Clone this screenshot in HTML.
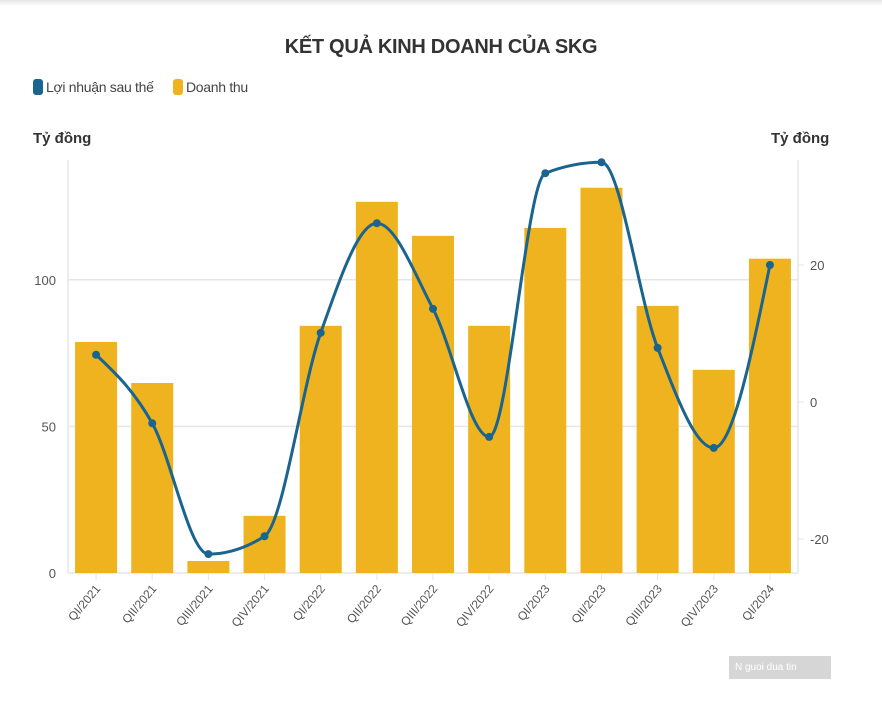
<!DOCTYPE html>
<html><head><meta charset="utf-8">
<style>
body{margin:0;background:#fff;font-family:"Liberation Sans",sans-serif;}
#wrap{position:relative;width:882px;height:706px;overflow:hidden;background:#fff;}
#topbar{position:absolute;left:0;top:0;width:882px;height:6px;background:linear-gradient(#e6e6e6,#fff);}
#title{position:absolute;left:0;width:882px;top:36px;text-align:center;font-weight:bold;font-size:20px;color:#333;letter-spacing:-0.3px;}
.leg{position:absolute;top:79px;font-size:14px;color:#444;display:flex;align-items:center;letter-spacing:-0.3px;}
.sw{display:inline-block;width:10px;height:16px;border-radius:3px;margin-right:3px;}
.unit{position:absolute;top:130px;font-weight:bold;font-size:15px;color:#333;}
#wm{position:absolute;left:729px;top:656px;width:102px;height:23px;background:#d6d6d6;color:#fff;font-size:10px;line-height:23px;padding-left:6px;box-sizing:border-box;}
</style></head><body>
<div id="wrap">
<div id="topbar"></div>
<div id="title">KẾT QUẢ KINH DOANH CỦA SKG</div>
<div class="leg" style="left:33px"><span class="sw" style="background:#1a6490"></span>Lợi nhuận sau thế</div>
<div class="leg" style="left:173px"><span class="sw" style="background:#eeb31e"></span>Doanh thu</div>
<div class="unit" style="left:33px">Tỷ đồng</div>
<div class="unit" style="left:771px">Tỷ đồng</div>
<svg id="chart" width="882" height="706" style="position:absolute;left:0;top:0"></svg>
<div id="wm">N guoi dua tin</div>
</div>
<script>
const categories=["QI/2021","QII/2021","QIII/2021","QIV/2021","QI/2022","QII/2022","QIII/2022","QIV/2022","QI/2023","QII/2023","QIII/2023","QIV/2023","QI/2024"];
const revenue=[78.8,64.8,4.1,19.5,84.3,126.6,115,84.3,117.7,131.4,91.1,69.3,107.2];
const profit=[6.9,-3.1,-22.2,-19.6,10.1,26.1,13.6,-5.1,33.4,35.0,7.9,-6.7,20.0];
const leftTicks=[0,50,100];
const rightTicks=[-20,0,20];
const svg=document.getElementById('chart');
const NS='http://www.w3.org/2000/svg';
const X0=68,X1=798,B=573;
const yL=v=>B-v*2.932;
const yR=v=>402-v*6.85;
const band=(X1-X0)/categories.length;
const xc=i=>X0+band*(i+0.5);
function mk(t,a){const e=document.createElementNS(NS,t);for(const k in a)e.setAttribute(k,a[k]);svg.appendChild(e);return e;}
leftTicks.forEach(t=>{
 const l=mk('line',{x1:X0,x2:X1,y1:yL(t),y2:yL(t),stroke:'#e6e6e6','stroke-width':1.5});
 
 
 const tx=mk('text',{x:X0-12,y:yL(t)+5,'text-anchor':'end','font-size':13,fill:'#555'});
 tx.textContent=t;
 
 
});
rightTicks.forEach(t=>{
 const tx=mk('text',{x:X1+12,y:yR(t)+5,'text-anchor':'start','font-size':13,fill:'#555'});
 tx.textContent=t;
 
 
 const tk=mk('line',{x1:X1,x2:X1+6,y1:yR(t),y2:yR(t),stroke:'#e6e6e6'});
 
 
});
[X0,X1].forEach(x=>{const l=mk('line',{x1:x,x2:x,y1:160,y2:B,stroke:'#e6e6e6','stroke-width':1.5});
 
 });
revenue.forEach((v,i)=>{
 const r=mk('rect',{x:xc(i)-21,y:yL(v),width:42,height:B-yL(v),fill:'#eeb31e'});
 
 
});
categories.forEach((c,i)=>{
 const tk=mk('line',{x1:xc(i),x2:xc(i),y1:B,y2:B+7,stroke:'#e6e6e6'});
 
 
 const tx=mk('text',{x:xc(i)+5,y:B+16,'text-anchor':'end','font-size':12,fill:'#555',transform:`rotate(-50 ${xc(i)+5} ${B+16})`});
 tx.textContent=c;
 
 
});
// monotone cubic (Fritsch-Carlson style, d3 monotoneX)
const pts=profit.map((v,i)=>[xc(i),yR(v)]);
const n=pts.length,h=band;
const s=[];for(let i=0;i<n-1;i++)s.push((pts[i+1][1]-pts[i][1])/h);
const m=[];
for(let i=0;i<n;i++){
 if(i===0)m.push(s[0]);else if(i===n-1)m.push(s[n-2]);
 else{const a=s[i-1],b=s[i];
  if(a*b<=0)m.push(0);
  else{const p=(a+b)/2;m.push((Math.sign(a)+Math.sign(b))*Math.min(Math.abs(a),Math.abs(b),0.5*Math.abs(p)));}}
}
m[0]=(3*s[0]-m[1])/2;m[n-1]=(3*s[n-2]-m[n-2])/2;
let d='M'+pts[0][0]+','+pts[0][1];
for(let i=0;i<n-1;i++){
 const dx=h/3;
 d+=`C${pts[i][0]+dx},${pts[i][1]+m[i]*dx} ${pts[i+1][0]-dx},${pts[i+1][1]-m[i+1]*dx} ${pts[i+1][0]},${pts[i+1][1]}`;
}
const line=mk('path',{d:d,fill:'none',stroke:'#1a6490','stroke-width':3});


pts.forEach((p,i)=>{
 const c=mk('circle',{cx:p[0],cy:p[1],r:4,fill:'#1a6490'});
 
 
});
</script>
</body></html>
